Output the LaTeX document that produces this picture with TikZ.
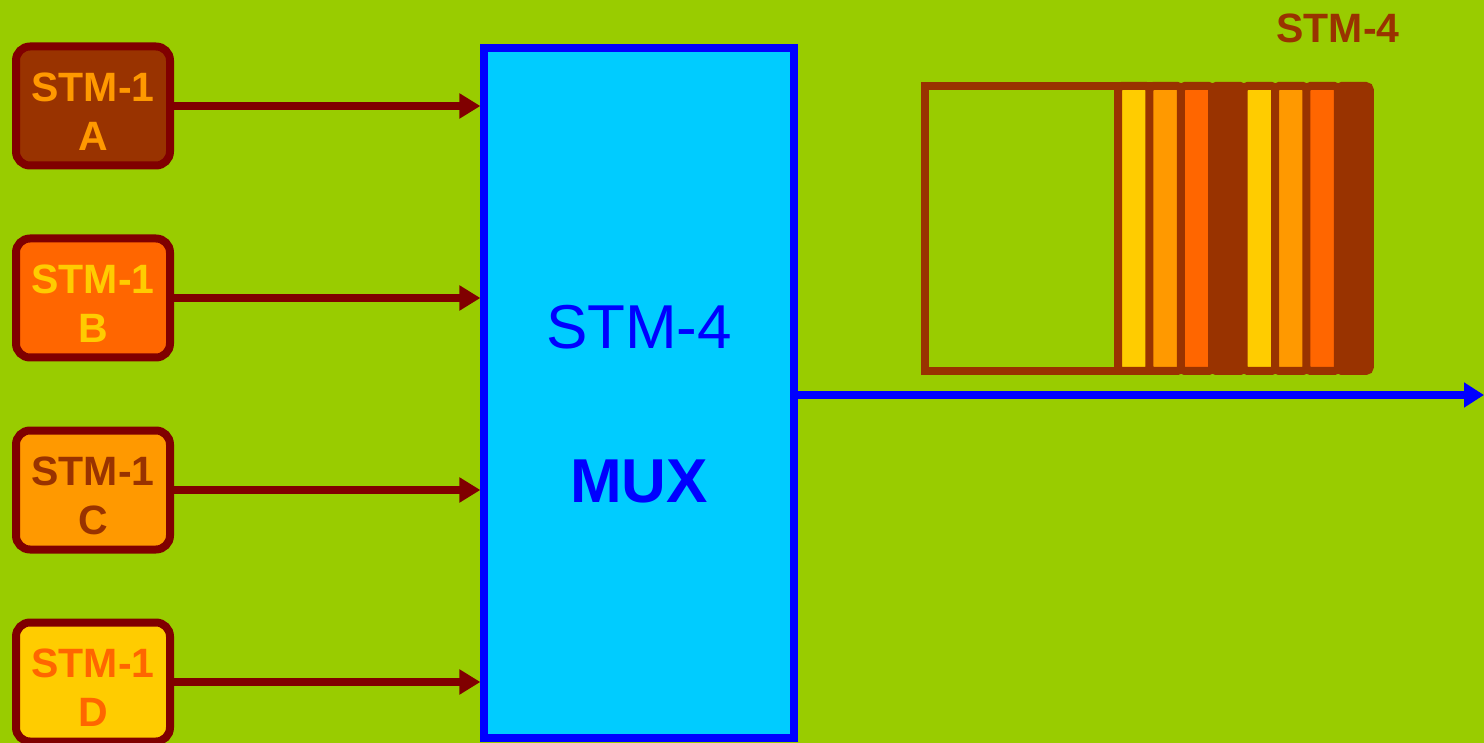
\documentclass[tikz,border=0pt]{standalone}
\usepackage{fontspec}
\setmainfont{Liberation Sans}
\usetikzlibrary{arrows.meta,positioning}
\definecolor{bggreen}{HTML}{99CC00}
\definecolor{boxred}{HTML}{800000}
\definecolor{stmbrown}{HTML}{993300}
\definecolor{stmred}{HTML}{FF6600}
\definecolor{stmorange}{HTML}{FF9900}
\definecolor{stmyellow}{HTML}{FFCC00}
\definecolor{muxblue}{HTML}{0000FF}
\definecolor{muxfill}{HTML}{00CCFF}
\newcommand{\lowtext}[1]{\raisebox{-3pt}[\height][\depth]{#1}}

\begin{document}
\begin{tikzpicture}[x=0.5pt, y=-0.5pt,
  every node/.style={font=\bfseries\fontsize{20.5}{24.5}\selectfont},
  stmbox/.style={draw=boxred, line width=4pt, rounded corners=7pt,
                 minimum width=77pt, minimum height=59.5pt, align=center,
                 inner sep=0pt},
  muxbox/.style={draw=muxblue, fill=muxfill, line width=3.6pt,
                 minimum width=155pt, minimum height=345pt},
  muxtext/.style={text=muxblue, font=\bfseries\fontsize{31}{37}\selectfont},
  arr/.style={-{Triangle[length=10.5pt,width=12pt]}, boxred, line width=3.8pt},
  outarr/.style={-{Triangle[length=10pt,width=12pt]}, muxblue, line width=3.6pt},
  slot/.style={draw=stmbrown, line width=4pt, rounded corners=2pt},
]

% background
\fill[bggreen] (0,0) rectangle (1484,743);
\useasboundingbox (0,0) rectangle (1484,743);

% STM-1 inputs
\node[stmbox, fill=stmbrown,  text=stmorange] (stmA) at (93,106) {\lowtext{STM-1}\\\lowtext{A}};
\node[stmbox, fill=stmred,    text=stmyellow] (stmB) at (93,298) {\lowtext{STM-1}\\\lowtext{B}};
\node[stmbox, fill=stmorange, text=stmbrown]  (stmC) at (93,490) {\lowtext{STM-1}\\\lowtext{C}};
\node[stmbox, fill=stmyellow, text=stmred]    (stmD) at (93,682) {\lowtext{STM-1}\\\lowtext{D}};

% multiplexer
\node[muxbox] (mux) at (639,393) {};
\node[muxtext, font=\mdseries\fontsize{31}{37}\selectfont] (muxrate) at (639,327) {STM-4};
\node[muxtext] (muxname) at (639,481) {MUX};

% arrows
\draw[arr] (stmA.east) -- (stmA.east -| mux.west);
\draw[arr] (stmB.east) -- (stmB.east -| mux.west);
\draw[arr] (stmC.east) -- (stmC.east -| mux.west);
\draw[arr] (stmD.east) -- (stmD.east -| mux.west);

\coordinate (out) at (1484,395);
\draw[outarr] (mux.east |- out) -- (out);

% STM-4 frame
\node[text=stmbrown] (framelabel) at (1338,28) {STM-4};
\draw[stmbrown, line width=4pt] (925,86) rectangle (1170,371);
\foreach \i/\c in {0/stmyellow,1/stmorange,2/stmred,3/stmbrown,
                   4/stmyellow,5/stmorange,6/stmred,7/stmbrown}
  \draw[slot, fill=\c] (1118+31.4*\i,86) rectangle +(32,285);

\end{tikzpicture}
\end{document}
